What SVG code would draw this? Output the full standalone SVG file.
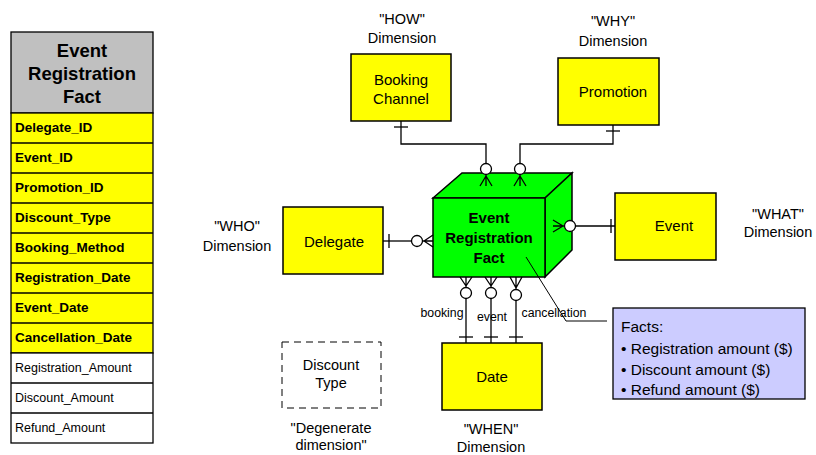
<svg xmlns="http://www.w3.org/2000/svg" width="816" height="455" viewBox="0 0 816 455">
  <style>
    text { font-family: "Liberation Sans", Arial, sans-serif; fill: #000; }
    .c { text-anchor: middle; }
    .lbl { font-size: 14.5px; }
    .box { font-size: 15px; }
    .ent { fill: #FFFF00; stroke: #000; stroke-width: 1.5; }
    .row { stroke: #000; stroke-width: 1.3; }
    .key { font-size: 13.5px; font-weight: bold; }
    .attr { font-size: 12.5px; }
    .ln { fill: none; stroke: #000; stroke-width: 1.3; }
    .ring { fill: #fff; stroke: #000; stroke-width: 1.3; }
    .small { font-size: 12.3px; }
  </style>

  <!-- fact table listing -->
  <g id="fact-table">
    <rect x="11" y="32" width="142" height="81" fill="#C0C0C0" class="row"/>
    <rect x="11" y="113" width="142" height="240" fill="#FFFF00" class="row"/>
    <rect x="11" y="353" width="142" height="90" fill="#FFFFFF" class="row"/>
    <g class="row">
      <line x1="11" y1="143" x2="153" y2="143"/>
      <line x1="11" y1="173" x2="153" y2="173"/>
      <line x1="11" y1="203" x2="153" y2="203"/>
      <line x1="11" y1="233" x2="153" y2="233"/>
      <line x1="11" y1="263" x2="153" y2="263"/>
      <line x1="11" y1="293" x2="153" y2="293"/>
      <line x1="11" y1="323" x2="153" y2="323"/>
      <line x1="11" y1="383" x2="153" y2="383"/>
      <line x1="11" y1="413" x2="153" y2="413"/>
    </g>
    <g class="c" font-size="18.5px" font-weight="bold">
      <text x="82" y="57">Event</text>
      <text x="82" y="80">Registration</text>
      <text x="82" y="103">Fact</text>
    </g>
    <g class="key">
      <text x="15" y="132">Delegate_ID</text>
      <text x="15" y="162">Event_ID</text>
      <text x="15" y="192">Promotion_ID</text>
      <text x="15" y="222">Discount_Type</text>
      <text x="15" y="252">Booking_Method</text>
      <text x="15" y="282">Registration_Date</text>
      <text x="15" y="312">Event_Date</text>
      <text x="15" y="342">Cancellation_Date</text>
    </g>
    <g class="attr">
      <text x="15" y="372">Registration_Amount</text>
      <text x="15" y="402">Discount_Amount</text>
      <text x="15" y="432">Refund_Amount</text>
    </g>
  </g>

  <!-- central fact cube -->
  <g id="fact-cube">
    <polygon points="433,198 462,173 572,173 545,198" fill="#00FF00" stroke="#000" stroke-width="1.5"/>
    <polygon points="545,198 572,173 572,250 545,277" fill="#00FF00" stroke="#000" stroke-width="1.5"/>
    <rect x="433" y="198" width="112" height="79" fill="#00FF00" stroke="#000" stroke-width="1.5"/>
    <g class="c" font-size="15px" font-weight="bold">
      <text x="489" y="223">Event</text>
      <text x="489" y="243">Registration</text>
      <text x="489" y="263">Fact</text>
    </g>
  </g>

  <g id="booking-channel">
    <rect x="351" y="54" width="100" height="67" class="ent"/>
    <text x="401" y="85" class="c box">Booking</text>
    <text x="401" y="104" class="c box">Channel</text>
    <text x="402" y="24" class="c lbl">"HOW"</text>
    <text x="402" y="43" class="c lbl">Dimension</text>
  </g>

  <g id="promotion">
    <rect x="558" y="58" width="101" height="67" class="ent"/>
    <text x="613" y="97" class="c box">Promotion</text>
    <text x="613" y="26" class="c lbl">"WHY"</text>
    <text x="613" y="46" class="c lbl">Dimension</text>
  </g>

  <g id="delegate">
    <rect x="283" y="207" width="100" height="67" class="ent"/>
    <text x="334" y="247" class="c box">Delegate</text>
    <text x="237" y="231" class="c lbl">"WHO"</text>
    <text x="237" y="251" class="c lbl">Dimension</text>
  </g>

  <g id="event">
    <rect x="615" y="193" width="101" height="67" class="ent"/>
    <text x="674" y="231" class="c box">Event</text>
    <text x="778" y="219" class="c lbl">"WHAT"</text>
    <text x="778" y="237" class="c lbl">Dimension</text>
  </g>

  <g id="date">
    <rect x="442" y="343" width="100" height="67" class="ent"/>
    <text x="492" y="382" class="c box">Date</text>
    <text x="491" y="434" class="c lbl">"WHEN"</text>
    <text x="491" y="452" class="c lbl">Dimension</text>
  </g>

  <g id="discount-type">
    <rect x="282" y="342" width="99" height="66" fill="none" stroke="#000" stroke-width="1" stroke-dasharray="7,5"/>
    <text x="331" y="370" class="c lbl">Discount</text>
    <text x="331" y="388" class="c lbl">Type</text>
    <text x="331" y="433" class="c lbl">"Degenerate</text>
    <text x="331" y="450" class="c lbl">dimension"</text>
  </g>

  <g id="facts-note">
    <rect x="613" y="308" width="192" height="91" fill="#CCCCFF" stroke="#000" stroke-width="1.3"/>
    <g font-size="15.5px">
      <text x="621" y="332">Facts:</text>
      <text x="621" y="354">• Registration amount ($)</text>
      <text x="621" y="375">• Discount amount ($)</text>
      <text x="621" y="395">• Refund amount ($)</text>
    </g>
  </g>

  <!-- relationship lines: bar = one, ring + crow's foot = zero or many -->
  <g id="connectors">
    <!-- Booking Channel -->
    <polyline points="401,121 401,144 486,144 486,163.5" class="ln"/>
    <line x1="394" y1="127" x2="408" y2="127" class="ln"/>
    <circle cx="486" cy="169" r="5.5" class="ring"/>
    <path d="M486,174.5 V186 M486,176 L480,186 M486,176 L492,186" class="ln"/>

    <!-- Promotion -->
    <polyline points="613,125 613,144 520,144 520,163.5" class="ln"/>
    <line x1="606" y1="131" x2="620" y2="131" class="ln"/>
    <circle cx="520" cy="169" r="5.5" class="ring"/>
    <path d="M520,174.5 V186 M520,176 L514,186 M520,176 L526,186" class="ln"/>

    <!-- Delegate -->
    <line x1="383" y1="241" x2="411.5" y2="241" class="ln"/>
    <line x1="389" y1="234" x2="389" y2="248" class="ln"/>
    <circle cx="417" cy="241" r="5.5" class="ring"/>
    <path d="M422.5,241 H433 M424,241 L433,235 M424,241 L433,247" class="ln"/>

    <!-- Event -->
    <line x1="575.5" y1="226" x2="615" y2="226" class="ln"/>
    <line x1="611" y1="219" x2="611" y2="233" class="ln"/>
    <circle cx="570" cy="226" r="5.5" class="ring"/>
    <path d="M564.5,226 H553 M563,226 L553,220 M563,226 L553,232" class="ln"/>

    <!-- Date: booking / event / cancellation -->
    <path d="M466,277 V287.5 M466,286 L460,277 M466,286 L472,277" class="ln"/>
    <circle cx="466" cy="293" r="5.5" class="ring"/>
    <line x1="466" y1="298.5" x2="466" y2="343" class="ln"/>
    <line x1="459" y1="337" x2="473" y2="337" class="ln"/>

    <path d="M491,277 V287.5 M491,286 L485,277 M491,286 L497,277" class="ln"/>
    <circle cx="491" cy="293" r="5.5" class="ring"/>
    <line x1="491" y1="298.5" x2="491" y2="343" class="ln"/>
    <line x1="484" y1="337" x2="498" y2="337" class="ln"/>

    <path d="M516,277 V289.5 M516,288 L510,277 M516,288 L522,277" class="ln"/>
    <circle cx="516" cy="295" r="5.5" class="ring"/>
    <line x1="516" y1="300.5" x2="516" y2="343" class="ln"/>
    <line x1="509" y1="337" x2="523" y2="337" class="ln"/>

    <text x="442" y="317" class="c small">booking</text>
    <text x="492" y="321" class="c small">event</text>
    <text x="554" y="317" class="c small">cancellation</text>

    <!-- note leader -->
    <polyline points="526,257 566,321 607,321" fill="none" stroke="#000" stroke-width="1"/>
  </g>
</svg>
